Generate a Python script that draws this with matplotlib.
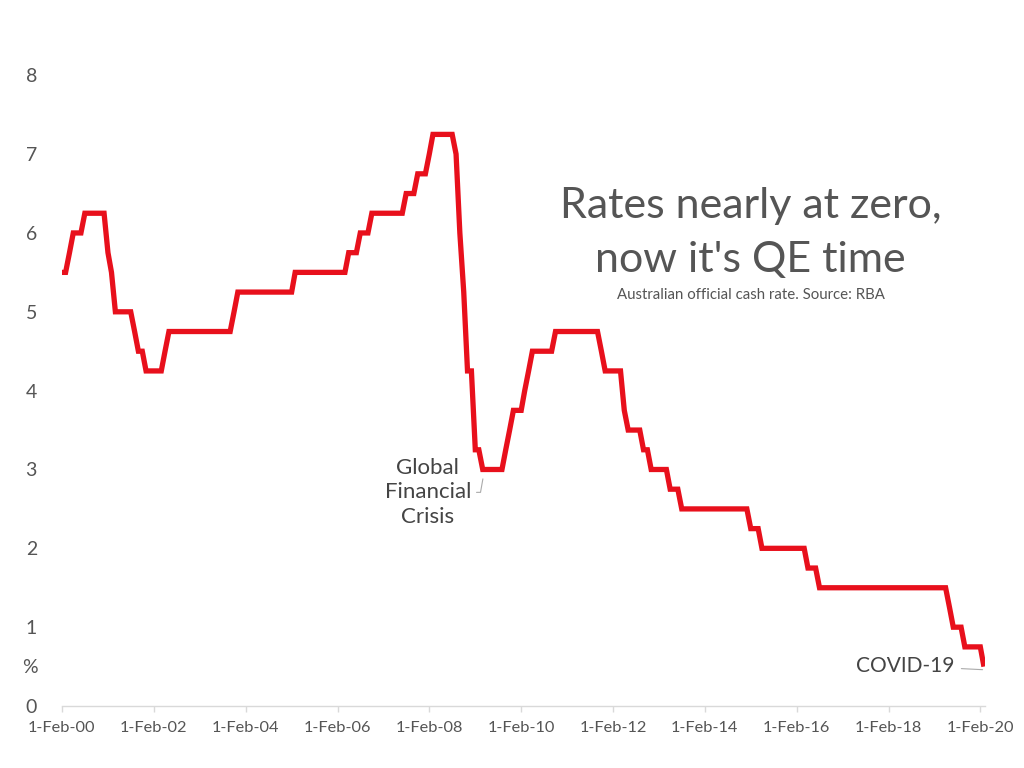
import matplotlib
matplotlib.use("Agg")
import matplotlib.pyplot as plt
import pandas as pd

# Monthly RBA cash rate, Feb 2000 - Mar 2020
rates_2000 = [5.5, 5.5, 5.75, 6.0, 6.0, 6.0, 6.25, 6.25, 6.25, 6.25, 6.25]  # Feb-Dec
rates_2001 = [6.25, 5.75, 5.5, 5.0, 5.0, 5.0, 5.0, 5.0, 4.75, 4.5, 4.5, 4.25]
rates_2002 = [4.25, 4.25, 4.25, 4.25, 4.5, 4.75, 4.75, 4.75, 4.75, 4.75, 4.75, 4.75]
rates_2003 = [4.75, 4.75, 4.75, 4.75, 4.75, 4.75, 4.75, 4.75, 4.75, 4.75, 5.0, 5.25]
rates_2004 = [5.25] * 12
rates_2005 = [5.25, 5.25, 5.5, 5.5, 5.5, 5.5, 5.5, 5.5, 5.5, 5.5, 5.5, 5.5]
rates_2006 = [5.5, 5.5, 5.5, 5.5, 5.75, 5.75, 5.75, 6.0, 6.0, 6.0, 6.25, 6.25]
rates_2007 = [6.25, 6.25, 6.25, 6.25, 6.25, 6.25, 6.25, 6.5, 6.5, 6.5, 6.75, 6.75]
rates_2008 = [6.75, 7.0, 7.25, 7.25, 7.25, 7.25, 7.25, 7.25, 7.0, 6.0, 5.25, 4.25]
rates_2009 = [4.25, 3.25, 3.25, 3.0, 3.0, 3.0, 3.0, 3.0, 3.0, 3.25, 3.5, 3.75]
rates_2010 = [3.75, 3.75, 4.0, 4.25, 4.5, 4.5, 4.5, 4.5, 4.5, 4.5, 4.75, 4.75]
rates_2011 = [4.75, 4.75, 4.75, 4.75, 4.75, 4.75, 4.75, 4.75, 4.75, 4.75, 4.5, 4.25]
rates_2012 = [4.25, 4.25, 4.25, 4.25, 3.75, 3.5, 3.5, 3.5, 3.5, 3.25, 3.25, 3.0]
rates_2013 = [3.0, 3.0, 3.0, 3.0, 2.75, 2.75, 2.75, 2.5, 2.5, 2.5, 2.5, 2.5]
rates_2014 = [2.5] * 12
rates_2015 = [2.5, 2.25, 2.25, 2.25, 2.0, 2.0, 2.0, 2.0, 2.0, 2.0, 2.0, 2.0]
rates_2016 = [2.0, 2.0, 2.0, 2.0, 1.75, 1.75, 1.75, 1.5, 1.5, 1.5, 1.5, 1.5]
rates_2017 = [1.5] * 12
rates_2018 = [1.5] * 12
rates_2019 = [1.5, 1.5, 1.5, 1.5, 1.5, 1.25, 1.0, 1.0, 1.0, 0.75, 0.75, 0.75]
rates_2020 = [0.75, 0.75, 0.5]  # Jan-Mar

yearly = [rates_2000, rates_2001, rates_2002, rates_2003, rates_2004, rates_2005,
          rates_2006, rates_2007, rates_2008, rates_2009, rates_2010, rates_2011,
          rates_2012, rates_2013, rates_2014, rates_2015, rates_2016, rates_2017,
          rates_2018, rates_2019, rates_2020]
rates = [v for yr in yearly for v in yr]
dates = pd.date_range("2000-02-01", periods=len(rates), freq="MS")

tick_years = list(range(2000, 2021, 2))
tick_labels = ["1-Feb-%02d" % (y % 100) for y in tick_years]
yticks = [0, 1, 2, 3, 4, 5, 6, 7, 8]

plt.rcParams['font.family'] = ['Lato', 'DejaVu Sans']
grey = "#555555"

fig = plt.figure(figsize=(10.24, 7.68), dpi=100)
ax = fig.add_axes([0.0605, 0.0807, 0.9015, 0.8213])

ax.plot(dates, rates, color="#E8101C", lw=3.8, solid_joinstyle="miter", solid_capstyle="butt")

ax.set_ylim(0, 8)
ax.set_xlim(pd.Timestamp("2000-02-01"), pd.Timestamp("2020-03-10"))
ax.set_yticks(yticks)
ax.set_yticklabels([str(v) for v in yticks])
tick_dates = [pd.Timestamp("%d-02-01" % y) for y in tick_years]
ax.set_xticks(tick_dates)
ax.set_xticklabels(tick_labels)

for s in ["top", "right", "left"]:
    ax.spines[s].set_visible(False)
ax.spines["bottom"].set_color("#d9d9d9")
ax.spines["bottom"].set_linewidth(1.0)
ax.tick_params(axis="y", length=0, pad=18, labelsize=14, labelcolor=grey)
ax.tick_params(axis="x", length=4, width=1, color="#d9d9d9", pad=7, labelsize=11.8, labelcolor=grey)

ax.text(-0.026, 0.49, "%", transform=ax.get_yaxis_transform(), ha="right", va="center",
        fontsize=14, color=grey)

fig.text(0.733, 0.716, "Rates nearly at zero,", ha="center", va="baseline",
         fontsize=31, color=grey)
fig.text(0.733, 0.646, "now it's QE time", ha="center", va="baseline",
         fontsize=31, color=grey)
fig.text(0.733, 0.616, "Australian official cash rate. Source: RBA", ha="center", va="center",
         fontsize=10.8, color=grey)

# Annotations
ax.annotate("Global\nFinancial\nCrisis", xy=(pd.Timestamp("2009-04-10"), 2.95),
            xytext=(pd.Timestamp("2008-01-20"), 2.71), ha="center", va="center",
            fontsize=16, color="#444444", linespacing=1.3,
            arrowprops=dict(arrowstyle="-", color="#aaaaaa", lw=0.8,
                            connectionstyle="angle,angleA=0,angleB=80,rad=0",
                            shrinkA=2, shrinkB=4))
ax.annotate("COVID-19", xy=(pd.Timestamp("2020-03-01"), 0.46),
            xytext=(pd.Timestamp("2019-07-10"), 0.51), ha="right", va="center",
            fontsize=15, color="#444444",
            arrowprops=dict(arrowstyle="-", color="#aaaaaa", lw=0.8, shrinkA=3, shrinkB=1))

fig.savefig("out.png", dpi=100, facecolor="white")
